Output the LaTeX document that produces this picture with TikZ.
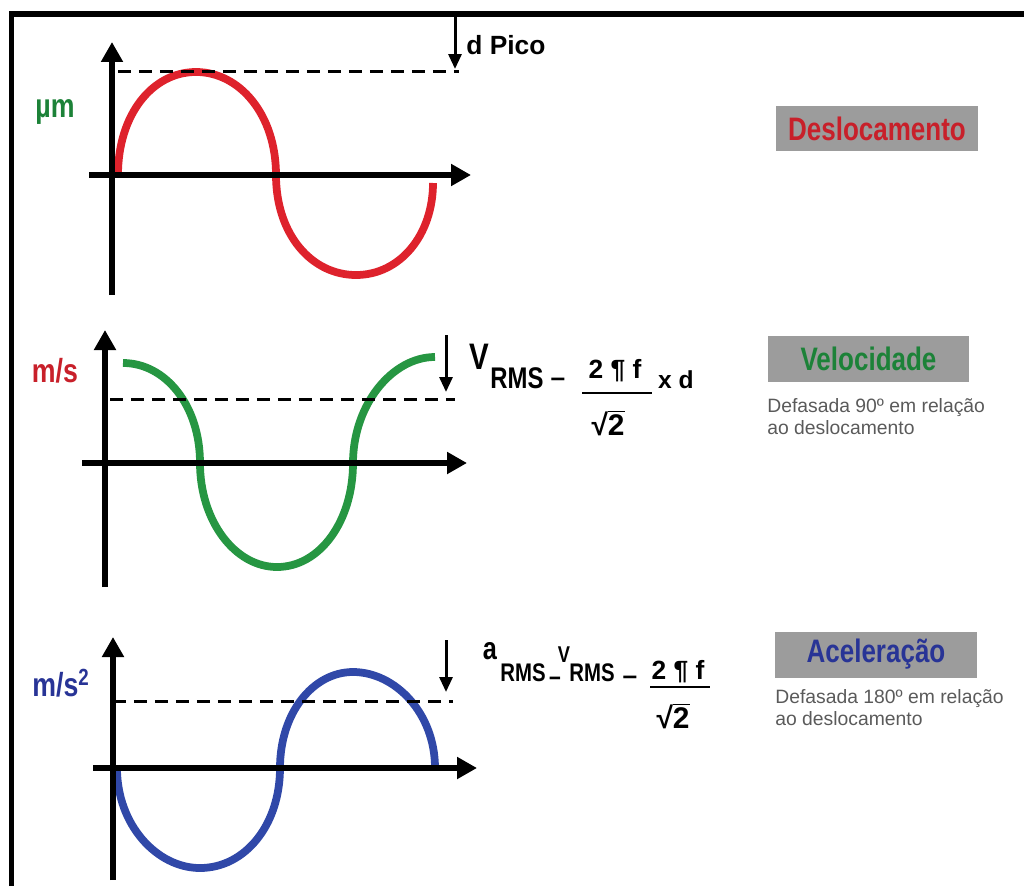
\documentclass[tikz,border=0pt]{standalone}
\usepackage{fontspec}
\setmainfont{Liberation Sans}
\newfontfamily\estreita[FakeStretch=0.8]{Liberation Sans}
\usetikzlibrary{arrows.meta}

\definecolor{vermelho}{RGB}{222,34,44}
\definecolor{verde}{RGB}{38,150,66}
\definecolor{azul}{RGB}{48,72,168}
\definecolor{txtvermelho}{RGB}{200,32,42}
\definecolor{txtverde}{RGB}{28,130,56}
\definecolor{txtazul}{RGB}{40,52,150}
\definecolor{caixa}{RGB}{156,156,156}
\definecolor{nota}{RGB}{90,90,90}

\begin{document}
\begin{tikzpicture}[x=0.02cm, y=-0.02cm,
	eixo/.style={line width=0.11cm, -{Triangle[length=0.4cm, width=0.42cm]}},
	curva/.style={line width=0.155cm},
	nivel/.style={line width=0.06cm, dash pattern=on 0.26cm off 0.16cm},
	seta/.style={line width=0.06cm, -{Triangle[length=0.3cm, width=0.26cm]}},
	titulo/.style={fill=caixa, minimum width=4.04cm, minimum height=0.92cm, inner sep=0pt,
		font=\estreita\bfseries\fontsize{18.5}{18.5}\selectfont},
	obs/.style={anchor=west, align=left, inner sep=0pt, text=nota,
		font=\fontsize{11}{12.6}\selectfont},
	unid/.style={inner sep=0pt, font=\estreita\bfseries\fontsize{19}{19}\selectfont},
	txt/.style={inner sep=0pt, font=\bfseries\fontsize{15}{15}\selectfont},
	fino/.style={inner sep=0pt, font=\estreita\bfseries\fontsize{15}{15}\selectfont}]

	% área da figura
	\useasboundingbox (0,0) rectangle (1024,886);

	% moldura (só topo e lado esquerdo)
	\draw[line width=0.12cm] (11.5,886) -- (11.5,13.5) -- (1024,13.5);

	% ---------- deslocamento ----------
	\draw[curva, vermelho] (118,175) .. controls (118,115) and (152,72) .. (196,72)
		.. controls (240,72) and (276,115) .. (276,175)
		.. controls (276,235) and (312,275) .. (356,275)
		.. controls (400,275) and (433,235) .. (433,183);
	\coordinate (A1b) at (112,295); \coordinate (A1t) at (112,42);
	\coordinate (A1l) at (89,175);  \coordinate (A1r) at (471,175);
	\draw[eixo] (A1b) -- (A1t);
	\draw[eixo] (A1l) -- (A1r);
	\coordinate (N1a) at (118,71); \coordinate (N1b) at (459,71);
	\draw[nivel] (N1a) -- (N1b);
	\coordinate (S1a) at (455,17); \coordinate (S1b) at (455,69);
	\draw[seta] (S1a) -- (S1b);
	\node[txt, anchor=west] (dpico) at (466,45) {d Pico};
	\node[unid, text=txtverde] (um) at (55,112) {µm};
	\node[titulo, text=txtvermelho] (desloc) at (877,128.5) {Deslocamento};

	% ---------- velocidade ----------
	\draw[curva, verde] (123,363) .. controls (165,363) and (200,405) .. (200,463)
		.. controls (200,521) and (235,567) .. (277,567)
		.. controls (320,567) and (353,521) .. (353,463)
		.. controls (353,405) and (392,357) .. (435,357);
	\coordinate (A2b) at (105,587); \coordinate (A2t) at (105,330);
	\coordinate (A2l) at (82,463);  \coordinate (A2r) at (467,463);
	\draw[eixo] (A2b) -- (A2t);
	\draw[eixo] (A2l) -- (A2r);
	\coordinate (N2a) at (110,399); \coordinate (N2b) at (455,399);
	\draw[nivel] (N2a) -- (N2b);
	\coordinate (S2a) at (446,335); \coordinate (S2b) at (446,392);
	\draw[seta] (S2a) -- (S2b);
	\node[unid, text=txtvermelho] (ms) at (55,371) {m/s};
	\node[titulo, text=txtverde] (veloc) at (868.5,358.5) {Velocidade};
	\node[obs] (obsv) at (767,416.5) {Defasada 90º em relação\\ao deslocamento};

	% V_RMS = 2 ¶ f / raiz(2) x d
	\node[inner sep=0pt, font=\estreita\bfseries\fontsize{21}{21}\selectfont] (v2) at (479,357) {V};
	\node[fino, font=\estreita\bfseries\fontsize{17}{17}\selectfont] (rms2) at (517,378) {RMS};
	\node[txt] (ig2) at (558,382) {–};
	\node[txt] (num2) at (615,371) {2 ¶ f};
	\coordinate (F2a) at (582,393); \coordinate (F2b) at (652,393);
	\draw[line width=0.05cm] (F2a) -- (F2b);
	\node[txt, font=\bfseries\fontsize{17}{17}\selectfont] (den2) at (608,423) {√$\overline{\mbox{2}}$};
	\node[txt, font=\bfseries\fontsize{14}{14}\selectfont] (xd2) at (676,380) {x d};

	% ---------- aceleração ----------
	\draw[curva, azul] (117,768) .. controls (117,825) and (157,868) .. (200,868)
		.. controls (245,868) and (280,825) .. (280,768)
		.. controls (280,713) and (313,672) .. (353,672)
		.. controls (395,672) and (435,713) .. (435,768);
	\coordinate (A3b) at (113,880); \coordinate (A3t) at (113,637);
	\coordinate (A3l) at (93,768);  \coordinate (A3r) at (477,768);
	\draw[eixo] (A3b) -- (A3t);
	\draw[eixo] (A3l) -- (A3r);
	\coordinate (N3a) at (113,701); \coordinate (N3b) at (453,701);
	\draw[nivel] (N3a) -- (N3b);
	\coordinate (S3a) at (446,640); \coordinate (S3b) at (446,692);
	\draw[seta] (S3a) -- (S3b);
	\node[unid, text=txtazul] (ms2) at (61,683) {m/s\textsuperscript{2}};
	\node[titulo, text=txtazul] (acel) at (876,654.5) {Aceleração};
	\node[obs] (obsa) at (775,708) {Defasada 180º em relação\\ao deslocamento};

	% a_RMS = V_RMS = 2 ¶ f / raiz(2)
	\node[fino, font=\estreita\bfseries\fontsize{18}{18}\selectfont] (a3) at (490,651) {a};
	\node[fino, font=\estreita\bfseries\fontsize{14.5}{14.5}\selectfont] (rmsa3) at (523,672.5) {RMS};
	\node[fino] (ig3a) at (555,681) {–};
	\node[fino, font=\estreita\bfseries\fontsize{13}{13}\selectfont] (v3) at (564,655) {V};
	\node[fino, font=\estreita\bfseries\fontsize{14.5}{14.5}\selectfont] (rmsv3) at (592,672.5) {RMS};
	\node[txt] (ig3b) at (630,680) {–};
	\node[txt] (num3) at (678,671.5) {2 ¶ f};
	\coordinate (F3a) at (650,687); \coordinate (F3b) at (710,687);
	\draw[line width=0.05cm] (F3a) -- (F3b);
	\node[txt, font=\bfseries\fontsize{17}{17}\selectfont] (den3) at (673,716) {√$\overline{\mbox{2}}$};
\end{tikzpicture}
\end{document}
